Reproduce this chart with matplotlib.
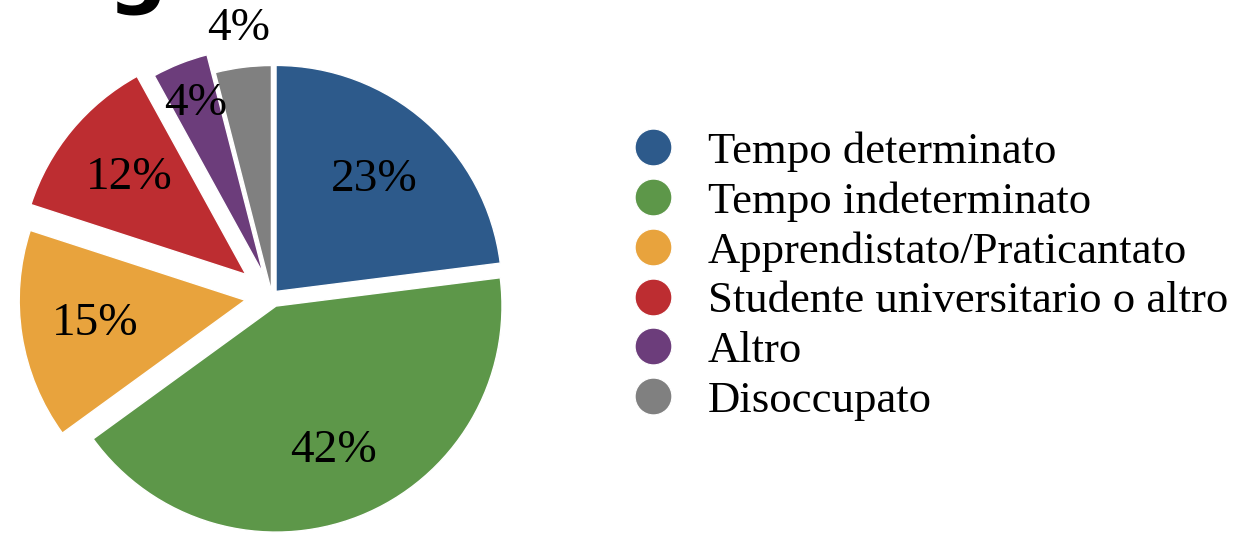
import matplotlib
matplotlib.use("Agg")
import matplotlib.pyplot as plt
import numpy as np
from matplotlib.lines import Line2D

categories = [
    "Tempo determinato",
    "Tempo indeterminato",
    "Apprendistato/Praticantato",
    "Studente universitario o altro",
    "Altro",
    "Disoccupato",
]
shares = [23, 42, 15, 12, 4, 4]
colors = ["#2D5A8B", "#5D9749", "#E8A33D", "#BD2D31", "#6C3D7B", "#808080"]
explode = [0.027, 0.048, 0.12, 0.15, 0.106, 0.02]
label_dist = [0.66, 0.69, 0.67, 0.67, 0.81, 1.17]

W, H = 1245, 534
CX, CY, R = 272, 296, 226  # pie centre and radius in pixels

SERIF = ["Liberation Serif", "DejaVu Serif"]

fig = plt.figure(figsize=(W / 100, H / 100), dpi=100)
ax = fig.add_axes([0, 0, 1, 1])

wedges, _ = ax.pie(
    shares,
    colors=colors,
    explode=explode,
    startangle=90,
    counterclock=False,
    radius=1.0,
    wedgeprops=dict(edgecolor="white", linewidth=1.0),
)

for w, v, d in zip(wedges, shares, label_dist):
    mid = np.deg2rad((w.theta1 + w.theta2) / 2)
    x = w.center[0] + d * w.r * np.cos(mid)
    y = w.center[1] + d * w.r * np.sin(mid)
    ax.text(x, y, f"{v}%", ha="center", va="center", fontsize=34, family=SERIF, color="black")

ax.set_xlim(-CX / R, (W - CX) / R)
ax.set_ylim(-(H - CY) / R, CY / R)
ax.set_aspect("auto")
ax.axis("off")

handles = [
    Line2D([], [], linestyle="none", marker="o", markersize=26.5,
           markerfacecolor=c, markeredgecolor="white", markeredgewidth=0.8)
    for c in colors
]
fig.legend(
    handles,
    categories,
    loc="center left",
    bbox_to_anchor=(631 / W, 1 - 276 / H),
    frameon=False,
    borderpad=0,
    borderaxespad=0,
    handlelength=1.0,
    handletextpad=0.72,
    labelspacing=0.21,
    prop={"family": SERIF, "size": 32.2},
)

# cropped title, only the descender of a "g" is left in view
fig.text(137 / W, 1 - 15 / H, "g", ha="center", va="bottom",
         fontsize=60, fontweight="bold", family="DejaVu Sans")

fig.savefig("out.png", dpi=100)
